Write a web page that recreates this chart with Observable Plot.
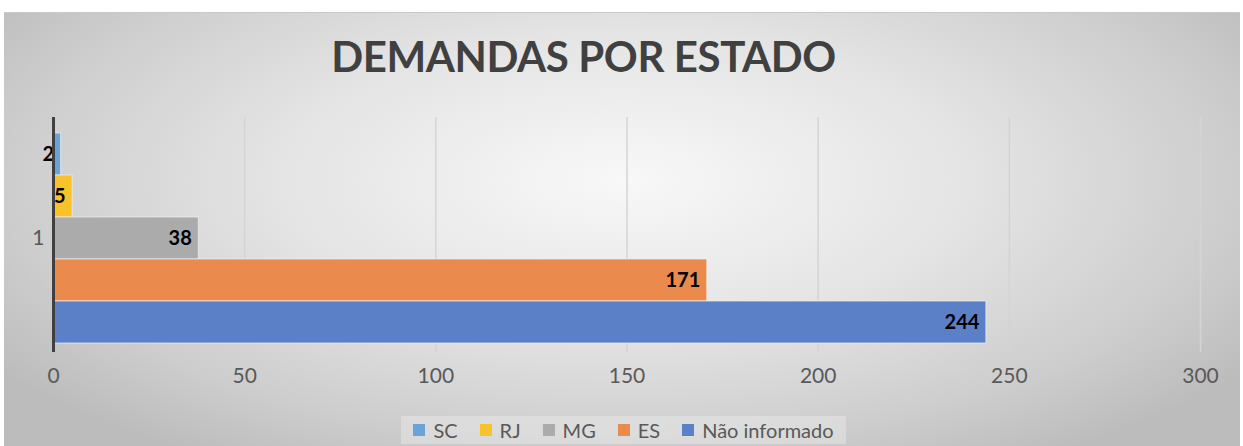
<!DOCTYPE html>
<html>
<head>
<meta charset="utf-8">
<script src="https://cdn.jsdelivr.net/npm/d3@7"></script>
<script src="https://cdn.jsdelivr.net/npm/@observablehq/plot@0.6"></script>
<style>
  html, body { margin: 0; padding: 0; background: #ffffff; }
  #wrap { position: relative; width: 1243px; height: 446px; overflow: hidden; font-family: Lato, "Noto Sans", sans-serif; }
  #box { position: absolute; left: 4px; top: 12px; width: 1236px; height: 440px;
         border-top: 1px solid #c8c8c8;
         background: radial-gradient(ellipse 62% 75% at 50% 38%, #f8f8f8 0%, #e4e4e4 45%, #cdcdcd 80%, #bcbcbc 100%); }
  #title { position: absolute; left: 0; width: 1167px; top: 31px; text-align: center;
           font-size: 42px; font-weight: 700; color: #404040; letter-spacing: -0.4px; }
  #chart { position: absolute; left: 0; top: 0; }
  #legend { position: absolute; left: 0; width: 1247px; top: 416px; display: flex; justify-content: center; }
  #legend .inner { display: flex; gap: 22px; padding: 2px 12px; background: rgba(235,235,235,0.45); }
  #legend .item { display: flex; align-items: center; gap: 8px; font-size: 20px; color: #595959; }
  #legend .sw { width: 12px; height: 12px; display: inline-block; }
</style>
</head>
<body>
<div id="wrap">
  <div id="box"></div>
  <div id="title">DEMANDAS POR ESTADO</div>
  <div id="chart"></div>
  <div id="legend"><div class="inner"></div></div>
</div>
<script>
const categories = ["1"];
const series = ["SC", "RJ", "MG", "ES", "Não informado"];
const values = [2, 5, 38, 171, 244];
const colors = ["#6aa3d8", "#f8c22a", "#ababab", "#ea8a4c", "#5b80c8"];
const xTicks = [0, 50, 100, 150, 200, 250, 300];

const data = series.map((s, i) => ({ series: s, value: values[i] }));

const chart = Plot.plot({
  width: 1243,
  height: 400,
  marginTop: 117,
  marginBottom: 48,
  marginLeft: 53,
  marginRight: 43,
  style: { background: "transparent", fontFamily: "Lato, 'Noto Sans', sans-serif", overflow: "visible" },
  x: { domain: [0, 300], axis: null, label: null },
  y: { domain: series, range: [131, 345], padding: 0, axis: null },
  color: { domain: series, range: colors },
  marks: [
    Plot.gridX(xTicks.filter(d => d > 0), { stroke: "#d4d4d4", strokeOpacity: 1, strokeWidth: 1.5 }),
    Plot.barX(data, { x: "value", y: "series", fill: "series", stroke: "#f2f2f2", strokeOpacity: 0.7, strokeWidth: 1 }),
    Plot.text(data, { x: "value", y: "series", text: d => String(d.value), textAnchor: "end", dx: -7,
                      fontWeight: 700, fontSize: 20, fill: "#000000" }),
    Plot.ruleX([0], { stroke: "#404040", strokeWidth: 3 }),
    Plot.axisX(xTicks, { tickSize: 0, tickPadding: 16, fontSize: 21, fill: "#595959", label: null, tickFormat: d => String(d) }),
    Plot.text(categories, { x: 0, y: () => series[2], text: d => d, textAnchor: "end", dx: -9,
                            fontSize: 21, fill: "#595959" })
  ]
});
document.getElementById("chart").appendChild(chart);

const inner = document.querySelector("#legend .inner");
series.forEach((s, i) => {
  const item = document.createElement("div");
  item.className = "item";
  const sw = document.createElement("span");
  sw.className = "sw";
  sw.style.background = colors[i];
  const lab = document.createElement("span");
  lab.textContent = s;
  item.appendChild(sw);
  item.appendChild(lab);
  inner.appendChild(item);
});
</script>
</body>
</html>
